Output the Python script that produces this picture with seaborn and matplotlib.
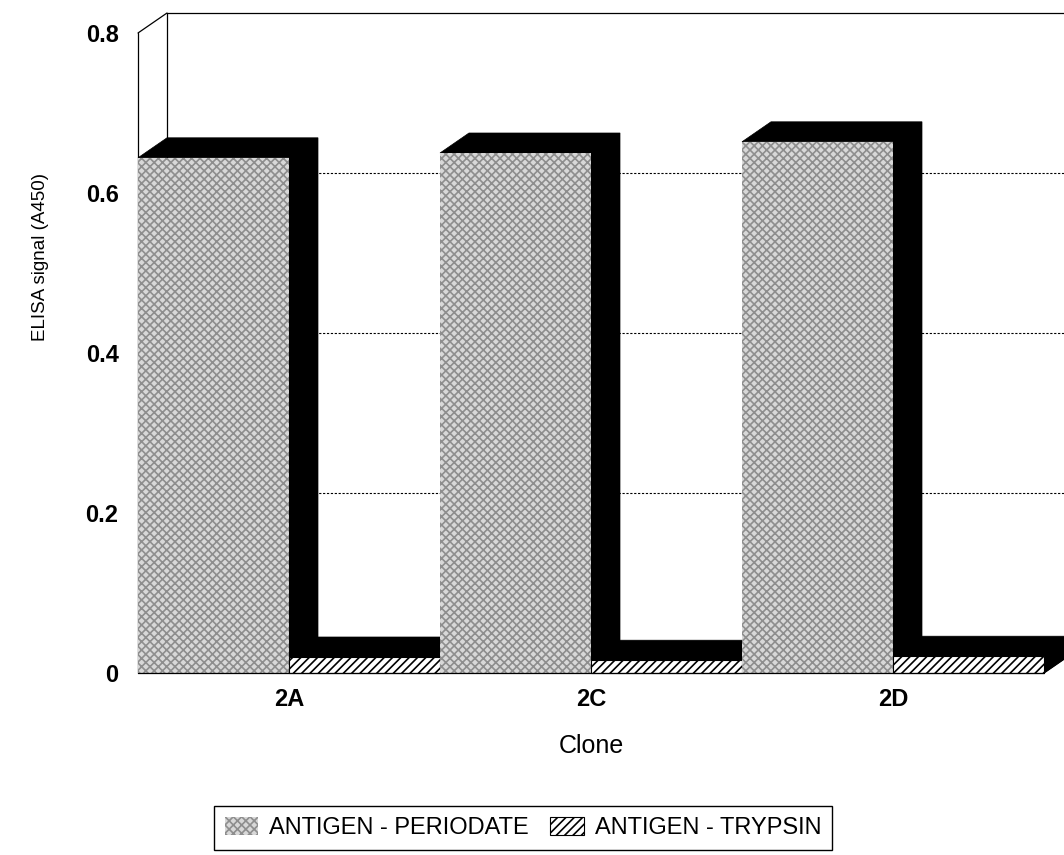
import matplotlib
matplotlib.use("Agg")
import matplotlib.pyplot as plt
from matplotlib.patches import Polygon, Patch
import seaborn as sns
import pandas as pd

# ---- data ----
clones = ["2A", "2C", "2D"]
series_names = ["ANTIGEN - PERIODATE", "ANTIGEN - TRYPSIN"]
periodate = [0.644, 0.650, 0.664]
trypsin = [0.020, 0.016, 0.021]
y_ticks = [0, 0.2, 0.4, 0.6, 0.8]
y_tick_labels = ["0", "0.2", "0.4", "0.6", "0.8"]

df = pd.DataFrame({
    "Clone": clones * 2,
    "Series": [series_names[0]] * 3 + [series_names[1]] * 3,
    "Value": periodate + trypsin,
})

sns.set_theme(style="white")
plt.rcParams["font.family"] = ["Liberation Sans", "DejaVu Sans"]
plt.rcParams["text.color"] = "black"
plt.rcParams["axes.labelcolor"] = "black"
plt.rcParams["xtick.color"] = "black"
plt.rcParams["ytick.color"] = "black"
plt.rcParams["hatch.linewidth"] = 1.2

fig = plt.figure(figsize=(10.64, 8.55), dpi=100)
W, H = 1064, 855
ax = fig.add_axes([138 / W, 1 - 673 / H, 906 / W, 640 / H])
ax.set_facecolor("none")

per_face, per_hatch = "#d8d8d8", "#8e8e8e"

sns.barplot(data=df, x="Clone", y="Value", hue="Series", order=clones,
            hue_order=series_names, palette=[per_face, "white"],
            width=1.0, gap=0, dodge=True, legend=False, ax=ax,
            err_kws={"linewidth": 0})

ax.set_xlim(-0.5, 2.5)
ax.set_ylim(0, 0.8)

dx, dy = 29 / 302, 20 / 800

styles = [
    dict(hatch="xxxx", edgecolor=per_hatch, linewidth=0),
    dict(hatch="////", edgecolor="black", linewidth=0.8),
]
bars = []
for cont, st in zip(ax.containers, styles):
    for p in cont:
        p.set_hatch(st["hatch"])
        p.set_edgecolor(st["edgecolor"])
        p.set_linewidth(st["linewidth"])
        bars.append(p)

bars.sort(key=lambda p: p.get_x())
for i, p in enumerate(bars):
    x, w, h = p.get_x(), p.get_width(), p.get_height()
    poly = Polygon([(x, h), (x + dx, h + dy), (x + w + dx, h + dy),
                    (x + w + dx, dy), (x + w, 0), (x + w, h)],
                   closed=True, facecolor="black", edgecolor="black",
                   linewidth=0.5, zorder=3 + 2 * i, clip_on=False)
    ax.add_patch(poly)
    p.set_zorder(4 + 2 * i)
    p.set_clip_on(False)

# walls / frame
lk = dict(color="black", linewidth=0.9, clip_on=False, zorder=1)
x0, x1 = -0.5, 2.5
ax.plot([x0, x0], [0, 0.8], **lk)
ax.plot([x0, x0 + dx], [0.8, 0.8 + dy], **lk)
ax.plot([x0 + dx, x0 + dx], [dy, 0.8 + dy], **lk)
ax.plot([x0 + dx, x1 + 2 * dx], [0.8 + dy, 0.8 + dy], **lk)
ax.plot([x0, x1], [0, 0], color="black", linewidth=0.9, clip_on=False, zorder=40)
ax.plot([x1, x1 + dx], [0, dy], color="black", linewidth=0.9, clip_on=False, zorder=40)
for yv in y_ticks[1:-1]:
    ax.plot([x0 + dx, x1 + 2 * dx], [yv + dy, yv + dy], color="black",
            linewidth=0.8, linestyle=(0, (2, 1.5)), clip_on=False, zorder=1)

for s in ax.spines.values():
    s.set_visible(False)
ax.grid(False)

ax.set_yticks(y_ticks)
ax.set_yticklabels(y_tick_labels, fontsize=17, fontweight="bold")
ax.tick_params(axis="y", length=0, pad=14)
ax.tick_params(axis="x", length=0, pad=11)
for lab in ax.get_xticklabels():
    lab.set_fontsize(17)
    lab.set_fontweight("bold")

ax.set_ylabel("ELISA signal (A450)", fontsize=13.5)
ax.yaxis.set_label_coords(-0.108, 0.65)
ax.yaxis.label.set_va("center")
ax.set_xlabel("Clone", fontsize=18)
ax.xaxis.set_label_coords(0.5, -0.114)
ax.xaxis.label.set_va("center")

handles = [Patch(facecolor=per_face, edgecolor=per_hatch, hatch="xxxx", linewidth=0),
           Patch(facecolor="white", edgecolor="black", hatch="////", linewidth=0.8)]
leg = fig.legend(handles, series_names, loc="upper left",
                 bbox_to_anchor=(214 / W, 1 - 806 / H), ncol=2, fontsize=17,
                 frameon=True, fancybox=False, shadow=False, borderaxespad=0,
                 handlelength=1.4, handleheight=0.85, handletextpad=0.5,
                 columnspacing=0.9, borderpad=0.45)
leg.get_frame().set_edgecolor("black")
leg.get_frame().set_linewidth(1.0)
leg.get_frame().set_alpha(1)

fig.savefig("out.png", dpi=100)
